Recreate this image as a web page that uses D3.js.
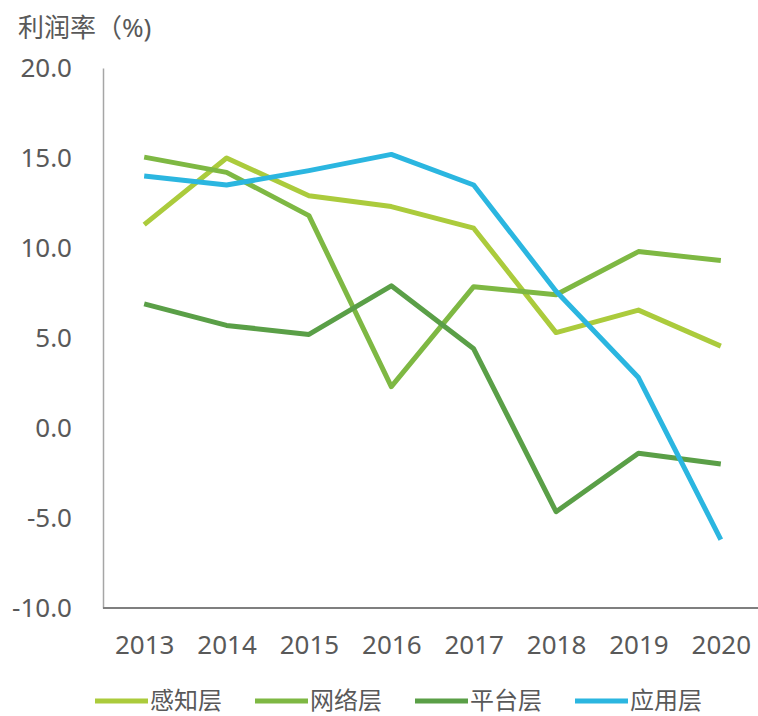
<!DOCTYPE html>
<html>
<head>
<meta charset="utf-8">
<script src="https://cdn.jsdelivr.net/npm/d3@7"></script>
<style>
  body { margin: 0; background: #fff; }
  svg text { font-family: "Noto Sans", "Noto Sans CJK SC", sans-serif; fill: #595959; }
</style>
</head>
<body>
<div id="chart"></div>
<script>
// Years on the x axis.
const years = ["2013", "2014", "2015", "2016", "2017", "2018", "2019", "2020"];

// Profit margin (%) per layer.
const perception = [11.3, 15.0, 12.9, 12.3, 11.1, 5.3, 6.55, 4.55];
const network = [15.05, 14.2, 11.8, 2.3, 7.85, 7.4, 9.8, 9.3];
const platform = [6.9, 5.7, 5.2, 7.9, 4.4, -4.65, -1.4, -2.0];
const application = [14.0, 13.5, 14.3, 15.2, 13.5, 7.6, 2.8, -6.2];

const seriesNames = ["感知层", "网络层", "平台层", "应用层"];
const yTicks = [-10, -5, 0, 5, 10, 15, 20];

const width = 758;
const height = 716;
const margin = { top: 68, right: 0, bottom: 108, left: 103 };
const colors = ["#abcb3c", "#7eb843", "#5a9f47", "#2bb6e0"];

const series = [perception, network, platform, application].map((values, i) => ({
  name: seriesNames[i],
  color: colors[i],
  values: values,
}));

const svg = d3
  .select("#chart")
  .append("svg")
  .attr("width", width)
  .attr("height", height);

// Scales.
const x = d3
  .scalePoint()
  .domain(years)
  .range([margin.left, 762])
  .padding(0.5);

const y = d3
  .scaleLinear()
  .domain([-10, 20])
  .range([height - margin.bottom, margin.top]);

// Y axis (plain hyphen for negatives, as in the source).
const yAxis = svg
  .append("g")
  .attr("transform", `translate(${margin.left},0)`)
  .call(
    d3
      .axisLeft(y)
      .tickValues(yTicks)
      .tickSize(0)
      .tickPadding(31)
      .tickFormat((d) => d.toFixed(1))
  );
yAxis.select(".domain").attr("stroke", "#a6a6a6").attr("stroke-width", 1.5);
yAxis.selectAll("text").attr("font-size", 26).style("fill", "#595959");

// X axis.
const xAxis = svg
  .append("g")
  .attr("transform", `translate(0,${y(-10)})`)
  .call(d3.axisBottom(x).tickSize(0).tickPadding(28));
xAxis
  .select(".domain")
  .attr("d", `M${margin.left},0H${width}`)
  .attr("stroke", "#7f7f7f")
  .attr("stroke-width", 2);
xAxis.selectAll("text").attr("font-size", 26).style("fill", "#595959");

// Axis title.
svg
  .append("text")
  .attr("x", 18)
  .attr("y", 37)
  .attr("font-size", 26)
  .text("利润率（%)");

// Lines.
const line = d3
  .line()
  .x((d, i) => x(years[i]))
  .y((d) => y(d));

svg
  .selectAll(".series")
  .data(series)
  .join("path")
  .attr("class", "series")
  .attr("fill", "none")
  .attr("stroke", (d) => d.color)
  .attr("stroke-width", 5)
  .attr("stroke-linejoin", "round")
  .attr("d", (d) => line(d.values));

// Legend.
const legend = svg.append("g").attr("transform", "translate(95,701)");
let offset = 0;
series.forEach((s) => {
  const item = legend.append("g").attr("transform", `translate(${offset},0)`);
  item
    .append("line")
    .attr("x1", 0)
    .attr("x2", 53)
    .attr("stroke", s.color)
    .attr("stroke-width", 5);
  const label = item
    .append("text")
    .attr("x", 55)
    .attr("dy", "0.35em")
    .attr("font-size", 24)
    .text(s.name);
  offset += 55 + label.node().getComputedTextLength() + 33;
});
</script>
</body>
</html>
